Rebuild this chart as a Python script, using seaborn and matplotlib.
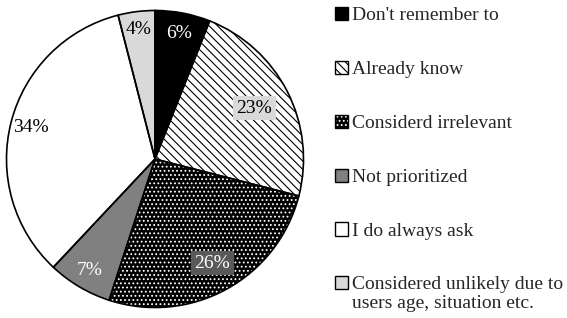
import seaborn as sns
import matplotlib.pyplot as plt
from matplotlib.patches import Patch, Rectangle
from matplotlib.legend_handler import HandlerPatch

# data
reasons = ["Don't remember to", "Already know", "Considerd irrelevant",
           "Not prioritized", "I do always ask",
           "Considered unlikely due to\nusers age, situation etc."]
shares = [6, 23, 26, 7, 34, 4]

# styling per slice
face_colors = ["#000000", "#ffffff", "#000000", "#808080", "#ffffff", "#d9d9d9"]
hatch_colors = ["#000000", "#000000", "#ffffff", "#808080", "#ffffff", "#d9d9d9"]
hatches = [None, "\\\\\\\\", "....", None, None, None]
text_colors = ["white", "black", "white", "white", "black", "black"]
label_boxes = [None, "#d9d9d9", "#595959", None, None, None]
label_dist = [0.86, 0.75, 0.80, 0.87, 0.86, 0.88]

FS = 14

sns.set_theme(style="white")
plt.rcParams['font.family'] = ['Liberation Serif', 'DejaVu Serif']
plt.rcParams['hatch.linewidth'] = 0.8

fig = plt.figure(figsize=(5.67, 3.18), dpi=100)
ax = fig.add_axes([5 / 567, 9 / 318, 300 / 567, 300 / 318])

wedges, texts, autotexts = ax.pie(
    shares, colors=face_colors, startangle=90, counterclock=False,
    autopct=lambda p: f"{p:.0f}%", pctdistance=0.86,
    wedgeprops=dict(linewidth=0), textprops=dict(fontsize=14))

for i, w in enumerate(wedges):
    w.set_edgecolor(hatch_colors[i])
    if hatches[i]:
        w.set_hatch(hatches[i])

for i, t in enumerate(autotexts):
    x, y = t.get_position()
    k = label_dist[i] / 0.86
    t.set_position((x * k, y * k))
    t.set_color(text_colors[i])
    if label_boxes[i]:
        t.set_bbox(dict(facecolor=label_boxes[i], edgecolor='none', pad=2.5))
    t.set_zorder(5)

# outlines on top
ax.pie(shares, colors=['none'] * len(shares), startangle=90, counterclock=False,
       wedgeprops=dict(linewidth=1.2, edgecolor='black'))

ax.set_xlim(-1.01, 1.01)
ax.set_ylim(-1.01, 1.01)
ax.set_aspect('equal')
ax.axis('off')


def top_line_square(legend, orig_handle, xdescent, ydescent, width, height, fontsize):
    # keep the square beside the first line of a two-line label
    return Rectangle((-xdescent, -ydescent + 0.58 * fontsize), width, height)


handles = []
handler_map = {}
for i in range(len(shares)):
    fill = Patch(facecolor=face_colors[i], edgecolor=hatch_colors[i],
                 hatch=hatches[i], linewidth=0)
    edge = Patch(facecolor='none', edgecolor='black', linewidth=1.0)
    handles.append((fill, edge))
    if "\n" in reasons[i]:
        handler_map[fill] = HandlerPatch(patch_func=top_line_square)
        handler_map[edge] = HandlerPatch(patch_func=top_line_square)

leg = fig.legend(handles, reasons, loc='upper left',
                 bbox_to_anchor=(335 / 567, 1 - 7 / 318),
                 frameon=False, fontsize=FS, borderpad=0, borderaxespad=0,
                 handlelength=0.68, handleheight=0.68, handletextpad=0.2,
                 labelspacing=1.87, handler_map=handler_map)
for t in leg.get_texts():
    t.set_linespacing(1.15)

fig.savefig("out.png", dpi=100)
